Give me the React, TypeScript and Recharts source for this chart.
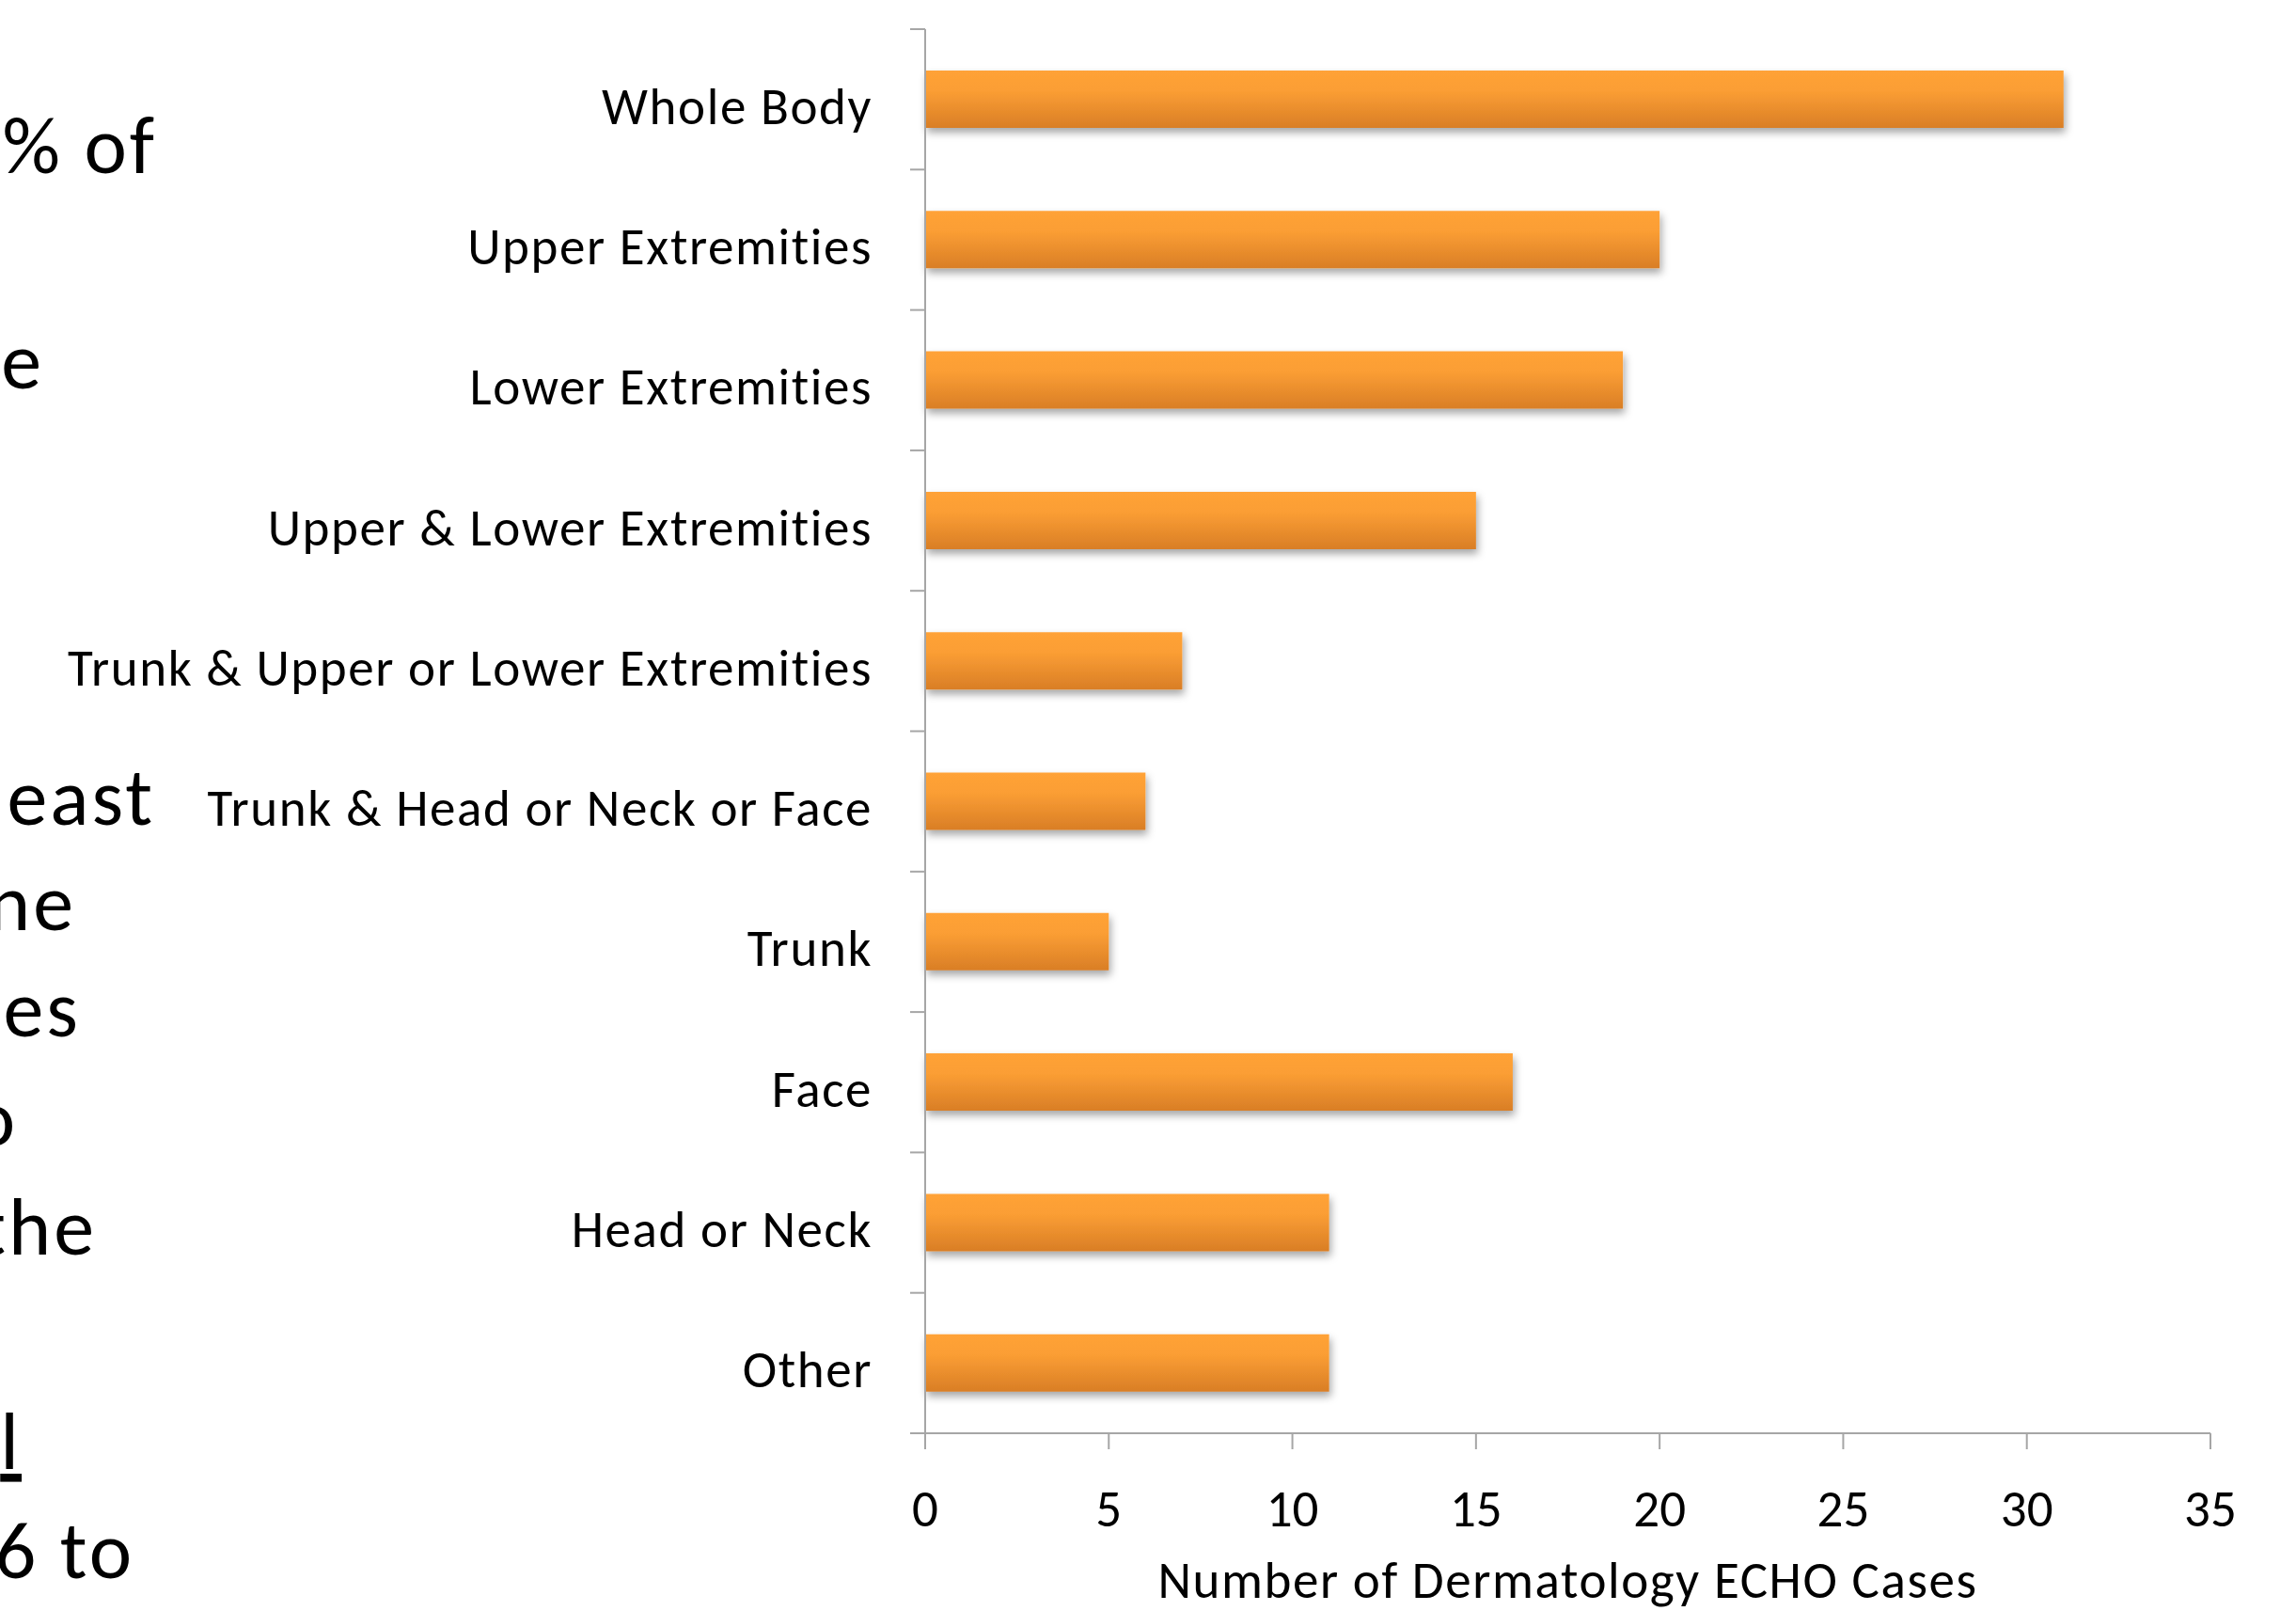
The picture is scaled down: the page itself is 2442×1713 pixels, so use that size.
import React from 'react';
import { BarChart, Bar, XAxis, YAxis } from 'recharts';

const categories = [
  'Whole Body',
  'Upper Extremities',
  'Lower Extremities',
  'Upper & Lower Extremities',
  'Trunk & Upper or Lower Extremities',
  'Trunk & Head or Neck or Face',
  'Trunk',
  'Face',
  'Head or Neck',
  'Other',
];
const caseCounts = [31, 20, 19, 15, 7, 6, 5, 16, 11, 11];
const xTicks = [0, 5, 10, 15, 20, 25, 30, 35];
const xTitle = 'Number of Dermatology ECHO Cases';

// Cut-off slide text visible at the left edge of the picture
const sideFragments = ['% of', 'e', 'east', 'ne', 'es', 'o', 'the', 'l', '6 to'];
const sideRightEdges = [167, 47, 165, 81, 86, 19, 103, 23, 143];
const sideBaselines = [184, 413, 877, 989, 1102, 1218, 1334, 1562, 1678];
const sideUnderlined = [false, false, false, false, false, false, false, true, false];

const data = categories.map((name, i) => ({ name, count: caseCounts[i] }));

const W = 2442;
const H = 1713;
const FONT = 'Carlito, Calibri, Lato, sans-serif';
const LABEL_SIZE = 55;
const LABEL_SPACING = 1.6;
const BIG_SIZE = 86;
const BIG_SPACING = 3;
const AXIS_GRAY = '#A6A6A6';
const Y_TICK_SIZE = 16;
const Y_TICK_MARGIN = 40;

const CategoryTick = (props: any) => {
  const { x, y, payload, index, visibleTicksCount } = props;
  const half = payload && typeof payload.offset === 'number' && payload.offset > 0 ? payload.offset : 74.65;
  const axisX = x + Y_TICK_SIZE + Y_TICK_MARGIN;
  const last = index === (visibleTicksCount ?? categories.length) - 1;
  return (
    <g>
      <line x1={axisX - Y_TICK_SIZE} x2={axisX} y1={y - half} y2={y - half} stroke={AXIS_GRAY} strokeWidth={2} />
      {last && (
        <line x1={axisX - Y_TICK_SIZE} x2={axisX} y1={y + half} y2={y + half} stroke={AXIS_GRAY} strokeWidth={2} />
      )}
      <text
        x={x}
        y={y}
        dy={26}
        textAnchor="end"
        fill="#000"
        fontSize={LABEL_SIZE}
        fontFamily={FONT}
        style={{ letterSpacing: LABEL_SPACING }}
      >
        {payload.value}
      </text>
    </g>
  );
};

export default function App() {
  return (
    <div style={{ position: 'fixed', left: 0, top: 0, width: W, height: H, overflow: 'hidden', background: '#fff' }}>
      <svg width={0} height={0} style={{ position: 'absolute' }}>
        <defs>
          <linearGradient id="barGrad" x1="0" y1="0" x2="0" y2="1">
            <stop offset="0" stopColor="#FFA237" />
            <stop offset="0.35" stopColor="#FB9E34" />
            <stop offset="1" stopColor="#D97E26" />
          </linearGradient>
          <filter id="barShadow" x="-5%" y="-20%" width="110%" height="160%">
            <feDropShadow dx="2" dy="5" stdDeviation="4" floodColor="#000" floodOpacity="0.35" />
          </filter>
        </defs>
      </svg>
      <svg width={W} height={H} style={{ position: 'absolute', left: 0, top: 0 }}>
        {sideFragments.map((t, i) => (
          <text
            key={i}
            x={sideRightEdges[i]}
            y={sideBaselines[i]}
            textAnchor="end"
            fontSize={BIG_SIZE}
            fontFamily={FONT}
            fill="#000"
            style={{ letterSpacing: BIG_SPACING, textDecoration: sideUnderlined[i] ? 'underline' : 'none' }}
          >
            {t}
          </text>
        ))}
      </svg>
      <div style={{ position: 'absolute', left: 0, top: 0 }}>
        <BarChart
          width={W}
          height={H}
          data={data}
          layout="vertical"
          margin={{ top: 31, right: 91, bottom: 0, left: 0 }}
          barCategoryGap={0}
        >
          <XAxis
            type="number"
            domain={[0, 35]}
            ticks={xTicks}
            interval={0}
            height={189}
            tickSize={17}
            tickMargin={43}
            stroke={AXIS_GRAY}
            strokeWidth={2}
            tick={{ fill: '#000', fontSize: LABEL_SIZE, fontFamily: FONT }}
            label={{
              value: xTitle,
              position: 'insideBottom',
              offset: 14,
              fill: '#000',
              fontSize: LABEL_SIZE,
              fontFamily: FONT,
              letterSpacing: LABEL_SPACING,
            }}
          />
          <YAxis
            type="category"
            dataKey="name"
            width={984}
            interval={0}
            tickLine={false}
            tickSize={Y_TICK_SIZE}
            tickMargin={Y_TICK_MARGIN}
            stroke={AXIS_GRAY}
            strokeWidth={2}
            tick={<CategoryTick />}
          />
          <Bar dataKey="count" barSize={61} fill="url(#barGrad)" filter="url(#barShadow)" isAnimationActive={false} />
        </BarChart>
      </div>
    </div>
  );
}
